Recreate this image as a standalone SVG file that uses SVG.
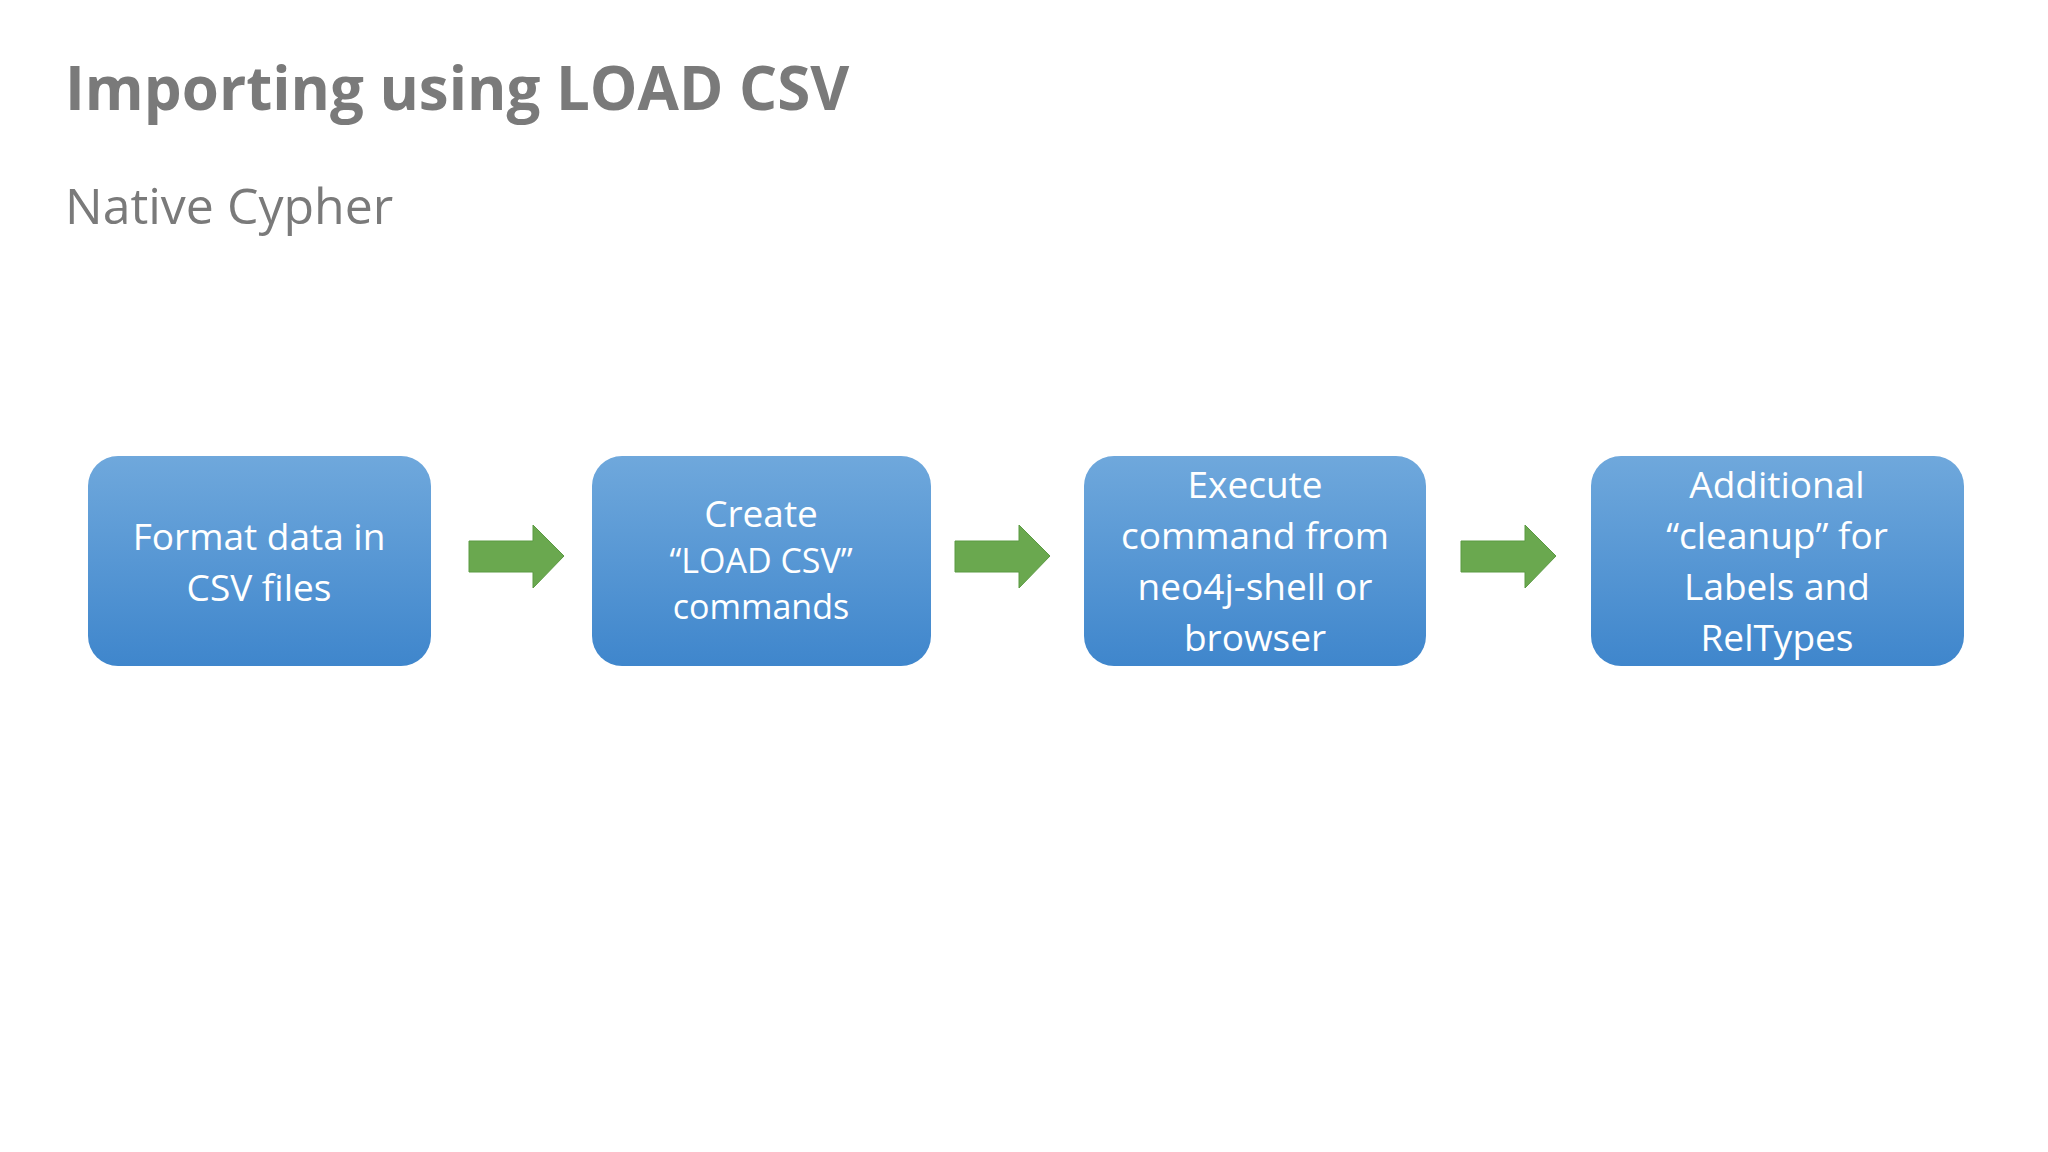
<svg xmlns="http://www.w3.org/2000/svg" width="2048" height="1152" viewBox="0 0 2048 1152">
<defs>
<linearGradient id="g" x1="0" y1="0" x2="0" y2="1"><stop offset="0" stop-color="#6fa8dc"/><stop offset="1" stop-color="#3f86cc"/></linearGradient>
<style>
.box{fill:url(#g);}
.t{font-family:"Open Sans","Liberation Sans",sans-serif;fill:#fff;text-anchor:middle;font-size:37px}
.arr{fill:#6aa84f;stroke:#5b9a42;stroke-width:1}
</style>
</defs>
<rect width="2048" height="1152" fill="#fff"/>
<text x="65" y="110" font-family="Open Sans,Liberation Sans,sans-serif" font-weight="bold" font-size="60" fill="#7a7a7a">Importing using LOAD CSV</text>
<text x="65" y="224" font-family="Open Sans,Liberation Sans,sans-serif" font-size="50" fill="#7a7a7a">Native Cypher</text>
<g id="n1"><rect class="box" x="88" y="456" width="343" height="210" rx="30"/><text class="t" x="259" y="550">Format data in</text><text class="t" x="259" y="601">CSV files</text></g>
<g id="n2"><rect class="box" x="592" y="456" width="339" height="210" rx="30"/><text class="t" x="761" y="527" font-size="34">Create</text><text class="t" x="761" y="573" style="font-size:34px">“LOAD CSV”</text><text class="t" x="761" y="619" style="font-size:34px">commands</text></g>
<g id="n3"><rect class="box" x="1084" y="456" width="342" height="210" rx="30"/><text class="t" x="1255" y="498">Execute</text><text class="t" x="1255" y="549">command from</text><text class="t" x="1255" y="600">neo4j-shell or</text><text class="t" x="1255" y="651">browser</text></g>
<g id="n4"><rect class="box" x="1591" y="456" width="373" height="210" rx="30"/><text class="t" x="1777" y="498">Additional</text><text class="t" x="1777" y="549">“cleanup” for</text><text class="t" x="1777" y="600">Labels and</text><text class="t" x="1777" y="651">RelTypes</text></g>
<g id="connectors">
<polygon class="arr" points="469,541 533,541 533,525 564,556 533,588 533,572 469,572"/>
<polygon class="arr" points="955,541 1019,541 1019,525 1050,556 1019,588 1019,572 955,572"/>
<polygon class="arr" points="1461,541 1525,541 1525,525 1556,556 1525,588 1525,572 1461,572"/>
</g>
</svg>
